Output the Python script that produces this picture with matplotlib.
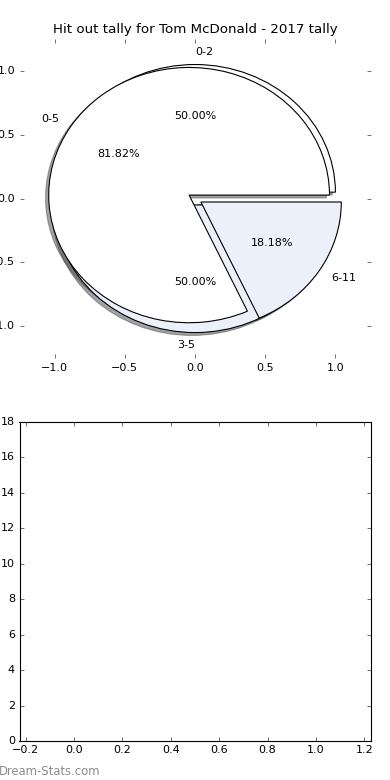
import matplotlib
matplotlib.use("Agg")
import matplotlib.pyplot as plt

plt.style.use("classic")
plt.rcParams["font.size"] = 10

# 두 개의 구간 집계(겹쳐 그린 파이)
labels_a = ["0-2", "3-5"]
tally_a = [1, 1]
labels_b = ["0-5", "6-11"]
tally_b = [9, 2]

y_ticks = [0, 2, 4, 6, 8, 10, 12, 14, 16, 18]

slice_colors = ["white", "#ebf0fb"]

fig, (ax1, ax2) = plt.subplots(2, 1, figsize=(4.875, 9.75), dpi=80)
fig.patch.set_facecolor("white")
fig.subplots_adjust(left=0.05, right=0.95, bottom=0.05, top=0.95, hspace=0.2)

# 라벨 정렬은 예전 matplotlib 결과에 맞춤
label_ha = {"0-2": "left", "3-5": "right", "0-5": "right", "6-11": "left"}

for vals, labs in ((tally_a, labels_a), (tally_b, labels_b)):
    wedges, texts, autotexts = ax1.pie(vals, labels=labs, colors=slice_colors,
                                       explode=[0.05, 0.05], autopct="%.2f%%",
                                       shadow=True, frame=True)
    for t in texts:
        t.set_ha(label_ha[t.get_text()])

ax1.set_aspect("auto")
ax1.set_frame_on(False)
ax1.set_xlim(-1.25, 1.25)
ax1.set_ylim(-1.25, 1.25)
ax1.set_xticks([-1.0, -0.5, 0.0, 0.5, 1.0])
ax1.set_yticks([-1.0, -0.5, 0.0, 0.5, 1.0])
ax1.set_title("Hit out tally for Tom McDonald - 2017 tally", fontsize=12)

ax2.set_xlim(-0.225, 1.225)
ax2.set_ylim(y_ticks[0], y_ticks[-1])
ax2.set_yticks(y_ticks)

fig.text(-0.003, 0.006, "Dream-Stats.com", fontsize=10.5, color="#8c8c8c",
         ha="left", va="baseline")

fig.savefig("out.png", dpi=80, facecolor="white")
